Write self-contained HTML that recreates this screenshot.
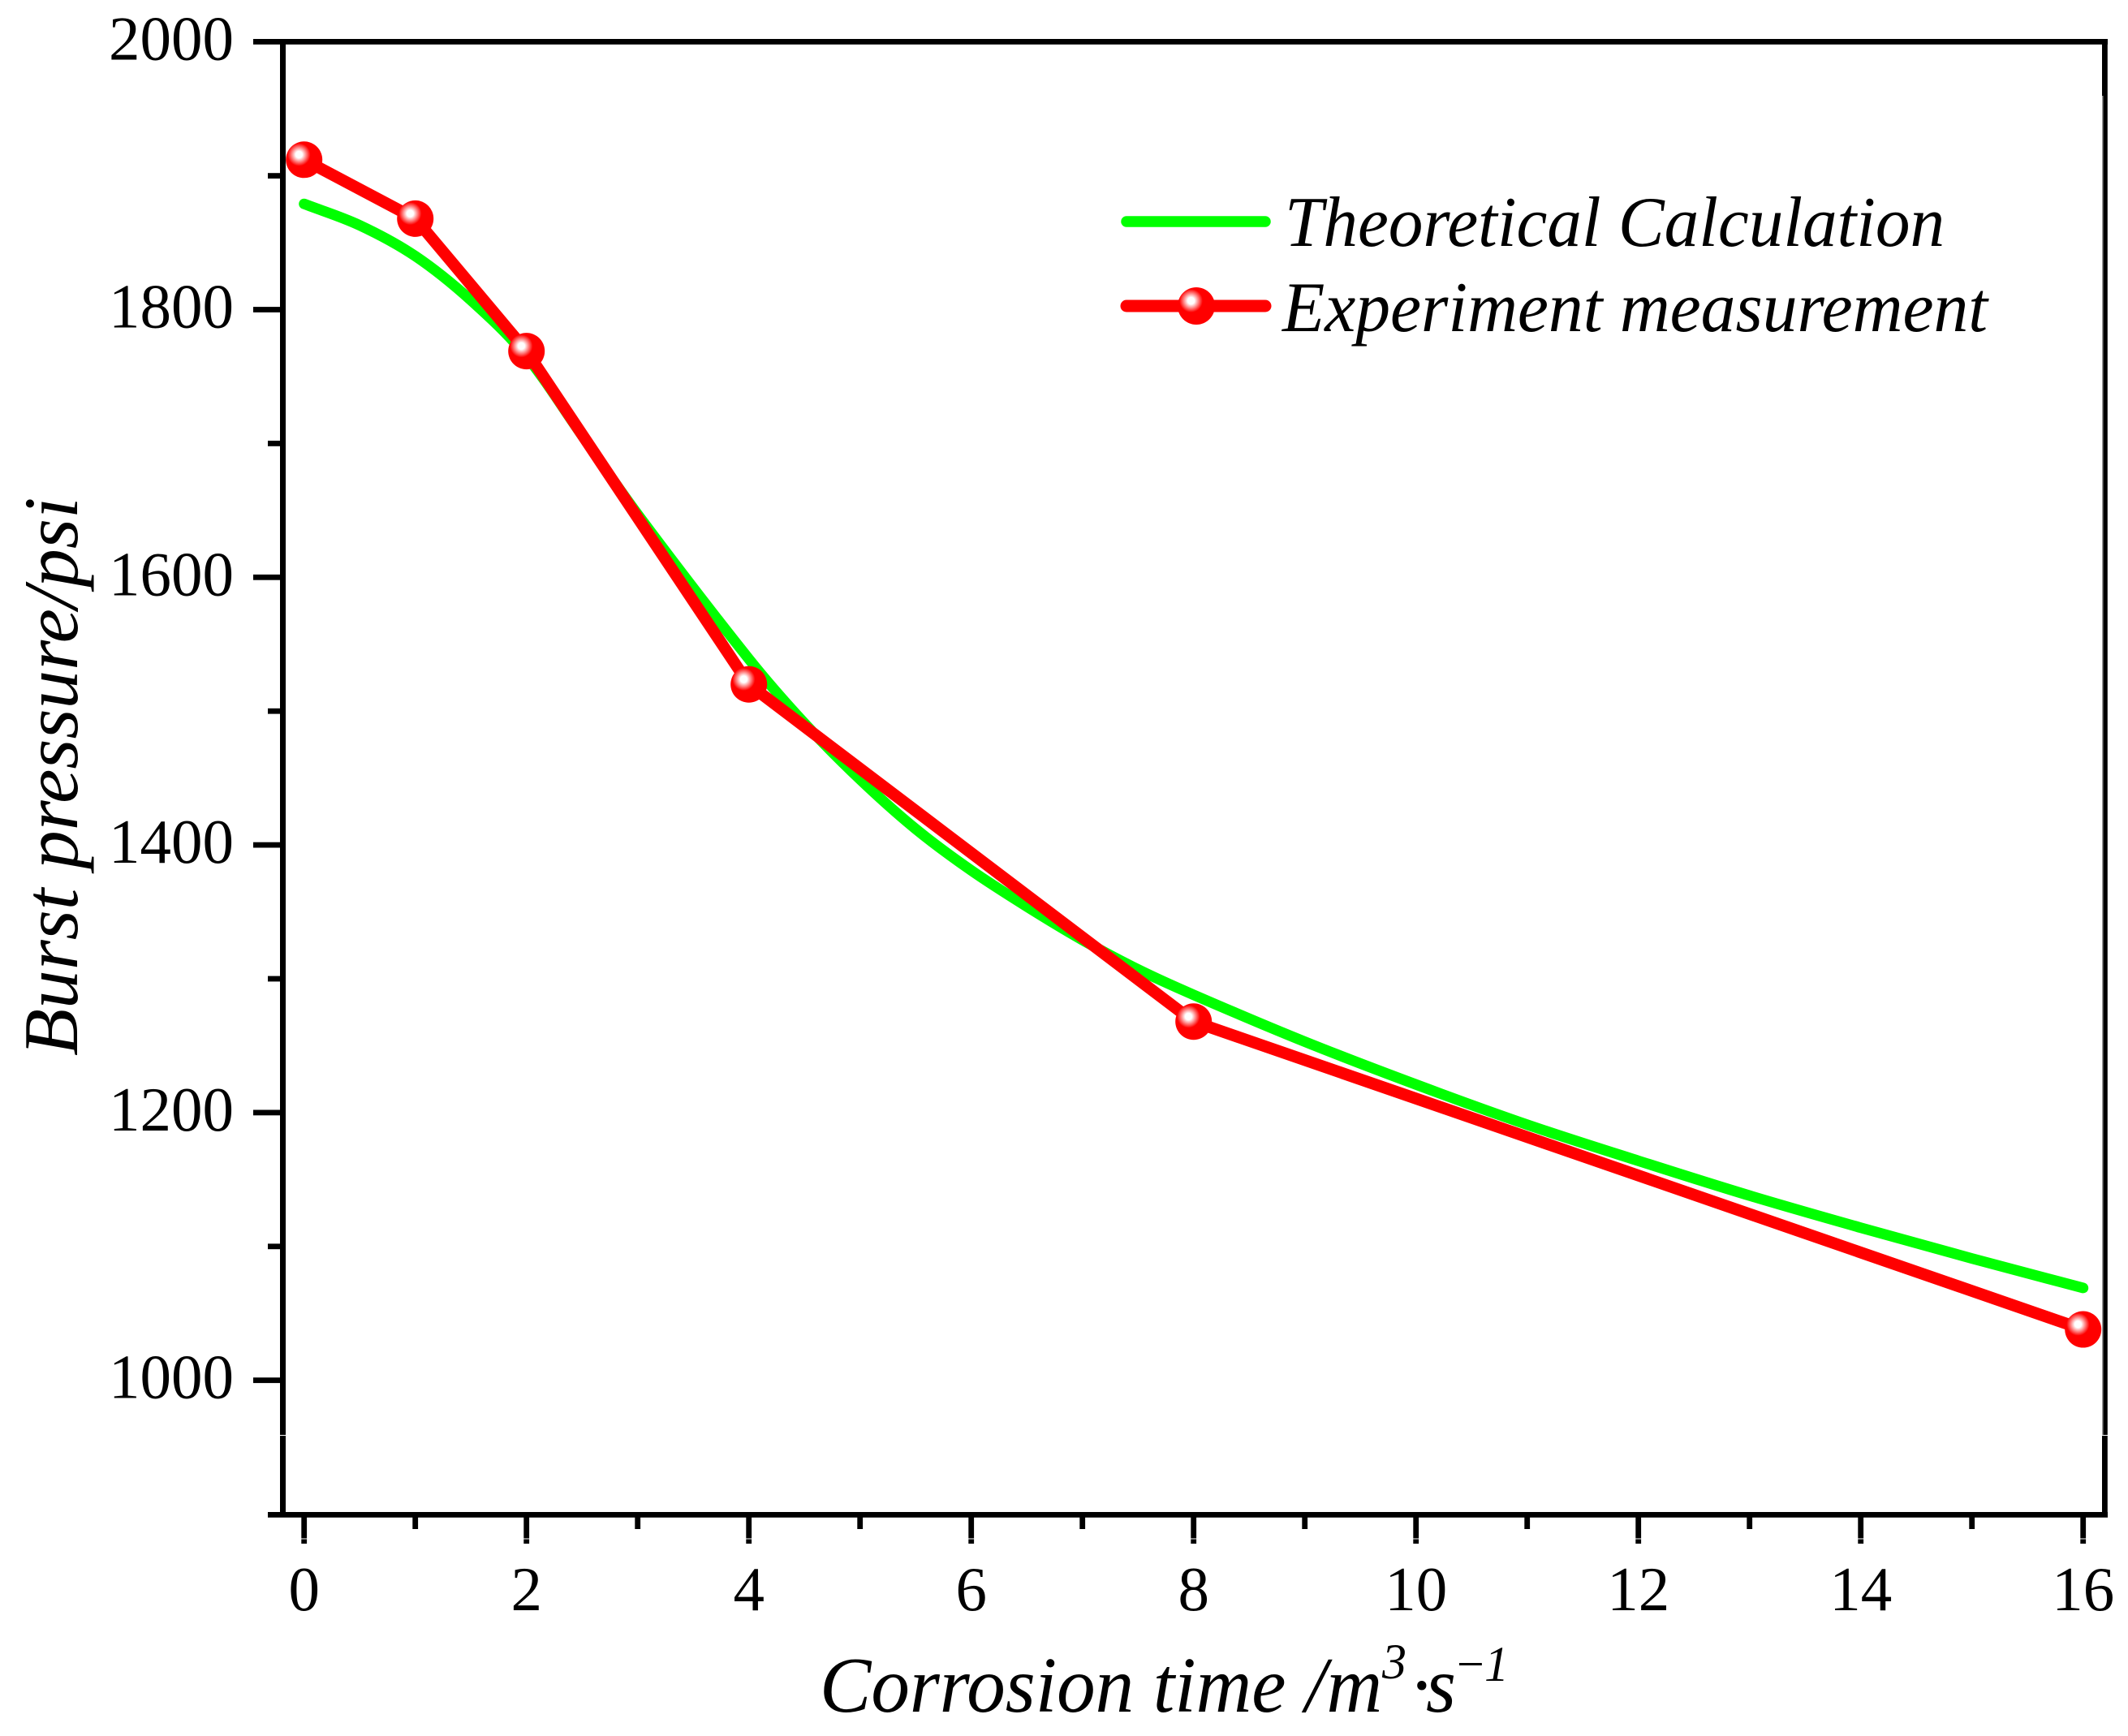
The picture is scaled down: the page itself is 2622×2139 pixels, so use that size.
<!DOCTYPE html>
<html lang="en">
<head>
<meta charset="utf-8">
<title>Burst pressure vs corrosion time</title>
<style>
html,body{margin:0;padding:0;background:#fff;}
svg{display:block;}
text{font-family:"Liberation Serif",serif;fill:#000;}
.it{font-style:italic;}
</style>
</head>
<body>
<svg id="chart" xmlns="http://www.w3.org/2000/svg" width="2622" height="2139" viewBox="0 0 2622 2139">
<defs>
<radialGradient id="ball" cx="0.36" cy="0.36" r="0.65">
<stop offset="0" stop-color="#fff"/>
<stop offset="0.14" stop-color="#fff"/>
<stop offset="0.48" stop-color="#f00"/>
<stop offset="1" stop-color="#f00"/>
</radialGradient>
</defs>
<rect width="2622" height="2139" fill="#fff"/>
<g id="ticks"></g>
<g id="series"></g>
<rect x="312" y="48" width="2285" height="6.8" fill="#000"/>
<rect x="330" y="1863" width="2267" height="6.8" fill="#000"/>
<rect x="345" y="48" width="7" height="1821" fill="#000"/>
<rect x="2590" y="48" width="6.8" height="1821" fill="#000"/>
<rect x="2590" y="118" width="1.5" height="1650" fill="#999"/>
<rect x="344" y="1768" width="10" height="1" fill="#fff"/>
<rect x="2589" y="1768" width="9" height="1" fill="#fff"/>
<g id="labels"></g>
<text class="it" font-size="95.2" transform="translate(95 1301) rotate(-90)">Burst pressure/psi</text>
<text class="it" font-size="95" transform="translate(0 2109) scale(1 1.03)" y="0"><tspan x="1010">Corrosion time /m</tspan><tspan x="1703" y="-40" font-size="60">3</tspan><tspan x="1736" y="0" style="font-style:normal">·</tspan><tspan x="1757" y="0">s</tspan><tspan x="1795" y="-37" font-size="60" style="font-style:normal">−</tspan><tspan x="1829" y="-37" font-size="60">1</tspan></text>
<g>
<g>
<line x1="1388" y1="273" x2="1559" y2="273" stroke="#0f0" stroke-width="13.5" stroke-linecap="round"/>
<text class="it" font-size="85.2" transform="translate(1583 303) scale(1 1.03)">Theoretical Calculation</text>
</g>
<g>
<line x1="1388" y1="377" x2="1559" y2="377" stroke="#f00" stroke-width="15" stroke-linecap="round"/>
<circle cx="1474" cy="377" r="23" fill="url(#ball)"/>
<text class="it" font-size="85.6" transform="translate(1580 408) scale(1 1.03)">Experiment measurement</text>
</g>
</g>
</svg>
<script>
const xMajorTicks = [0, 2, 4, 6, 8, 10, 12, 14, 16];
const xMinorTicks = [1, 3, 5, 7, 9, 11, 13, 15];
const yMajorTicks = [1000, 1200, 1400, 1600, 1800];
const yMinorTicks = [1100, 1300, 1500, 1700, 1900];
const yLabelTicks = [1000, 1200, 1400, 1600, 1800, 2000];
const theoryTimes = [0, 0.5, 1, 1.5, 2, 2.5, 3, 4, 4.5, 5, 5.5, 6, 6.5, 7, 7.5, 8, 9, 10, 11, 12, 13, 14, 15, 16];
const theoryPressure = [1879, 1863, 1840, 1807, 1765, 1706, 1647, 1539, 1491, 1449, 1412, 1381, 1354, 1329, 1307, 1288, 1253, 1221, 1191, 1164, 1138, 1114, 1091, 1069];
const experimentTimes = [0, 1, 2, 4, 8, 16];
const experimentPressure = [1912, 1868, 1769, 1520, 1268, 1038];

const NS = 'http://www.w3.org/2000/svg';
function xScale(t) { return 374.7 + 137 * t; }
function yScale(v) { return 381.5 + (1800 - v) * 1.649; }
function make(tag, attrs, parent) {
  const el = document.createElementNS(NS, tag);
  for (const k in attrs) el.setAttribute(k, attrs[k]);
  parent.appendChild(el);
  return el;
}
function smoothPath(xs, ys) {
  const pts = xs.map((t, i) => [xScale(t), yScale(ys[i])]);
  let d = 'M' + pts[0][0] + ' ' + pts[0][1];
  for (let i = 0; i < pts.length - 1; i++) {
    const p0 = pts[Math.max(i - 1, 0)], p1 = pts[i], p2 = pts[i + 1], p3 = pts[Math.min(i + 2, pts.length - 1)];
    const h = p2[0] - p1[0];
    const m1 = (p2[1] - p0[1]) / (p2[0] - p0[0]);
    const m2 = (p3[1] - p1[1]) / (p3[0] - p1[0]);
    d += 'C' + (p1[0] + h / 3) + ' ' + (p1[1] + m1 * h / 3) + ' ' + (p2[0] - h / 3) + ' ' + (p2[1] - m2 * h / 3) + ' ' + p2[0] + ' ' + p2[1];
  }
  return d;
}
const ticks = document.getElementById('ticks');
const labels = document.getElementById('labels');
const series = document.getElementById('series');

xMajorTicks.forEach(function (t) {
  const tick = make('rect', { x: xScale(t) - 3.4, y: 1866, width: 6.8, height: 36, fill: '#000' }, ticks);
  
  
  const seam = make('rect', { x: xScale(t) - 4, y: 1895.5, width: 8, height: 1, fill: '#fff' }, ticks);
  
  
  const label = make('text', { x: xScale(t), y: 1984, 'font-size': 77, 'text-anchor': 'middle' }, labels);
  label.textContent = String(t);
  
  
});
xMinorTicks.forEach(function (t) {
  const tick = make('rect', { x: xScale(t) - 3.4, y: 1866, width: 6.8, height: 18, fill: '#000' }, ticks);
  
  
});
yMajorTicks.forEach(function (v) {
  const tick = make('rect', { x: 312, y: yScale(v) - 3.4, width: 36, height: 6.8, fill: '#000' }, ticks);
  
  
});
yMinorTicks.forEach(function (v) {
  const tick = make('rect', { x: 330, y: yScale(v) - 3.4, width: 18, height: 6.8, fill: '#000' }, ticks);
  
  
});
yLabelTicks.forEach(function (v) {
  const label = make('text', { x: 288, y: yScale(v) + 22, 'font-size': 77, 'text-anchor': 'end' }, labels);
  label.textContent = String(v);
  
  
});

const theoryLine = make('path', { d: smoothPath(theoryTimes, theoryPressure), fill: 'none', stroke: '#0f0', 'stroke-width': 13, 'stroke-linecap': 'round', 'stroke-linejoin': 'round' }, series);



const experimentPoints = experimentTimes.map(function (t, i) { return xScale(t) + ',' + yScale(experimentPressure[i]); }).join(' ');
const experimentLine = make('polyline', { points: experimentPoints, fill: 'none', stroke: '#f00', 'stroke-width': 14.5, 'stroke-linejoin': 'round' }, series);



experimentTimes.forEach(function (t, i) {
  const marker = make('circle', { cx: xScale(t), cy: yScale(experimentPressure[i]), r: 22.5, fill: 'url(#ball)' }, series);
  
  
});
</script>
</body>
</html>
